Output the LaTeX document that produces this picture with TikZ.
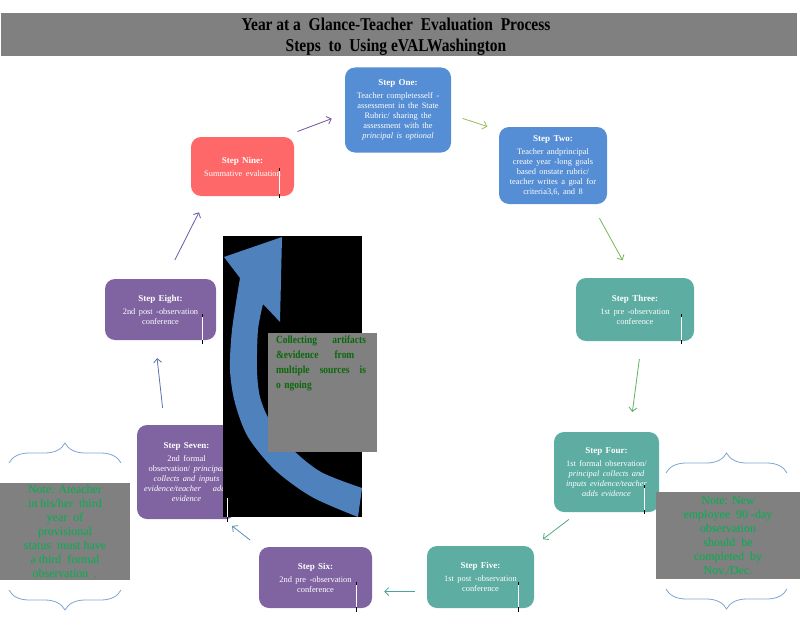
\documentclass[tikz,border=0pt]{standalone}
\usepackage{fontspec}
\setmainfont{Liberation Serif}
\newfontfamily\narrowfont{Liberation Serif}[FakeStretch=0.86]
\usetikzlibrary{positioning,arrows.meta,decorations.pathreplacing}
\definecolor{stepblue}{RGB}{85,142,213}
\definecolor{stepteal}{RGB}{93,173,163}
\definecolor{steppurple}{RGB}{128,100,162}
\definecolor{stepred}{RGB}{255,104,104}
\definecolor{notegray}{RGB}{128,128,128}
\definecolor{notegreen}{RGB}{0,176,80}
\definecolor{collectgreen}{RGB}{10,105,10}
\definecolor{bigblue}{RGB}{79,129,189}
\definecolor{braceblue}{RGB}{125,165,210}
\definecolor{c91}{RGB}{112,82,162}
\definecolor{c12}{RGB}{155,187,89}
\definecolor{c23}{RGB}{118,184,80}
\definecolor{c34}{RGB}{92,176,98}
\definecolor{c45}{RGB}{80,170,128}
\definecolor{c56}{RGB}{75,163,160}
\definecolor{c67}{RGB}{90,140,190}
\definecolor{c78}{RGB}{92,112,180}
\definecolor{c89}{RGB}{104,90,168}
\newcommand{\steptitle}[1]{{\fontsize{9}{11}\selectfont\bfseries #1}\\[3pt]}
\newcommand{\wordgap}{\spaceskip=3.4pt\relax}

\begin{document}
\begin{tikzpicture}[x=1pt, y=-1pt,
    stepbox/.style={rounded corners=10pt, text=white, align=center, inner sep=0pt, font=\fontsize{8.4}{10}\selectfont\wordgap},
    notebox/.style={fill=notegray, text=notegreen, align=center, inner sep=0pt, font=\fontsize{12}{14}\selectfont},
    link/.style={-{Straight Barb[length=4pt,width=8pt]}, line width=0.8pt},
    bracket/.style={draw=braceblue, line width=0.8pt, decorate, decoration={brace, amplitude=20pt}}]
    \useasboundingbox (0,0) rectangle (800,618);
    % title bar
    \fill[notegray] (1,13) rectangle (797,56);
    \node[align=center, inner sep=0pt, font=\narrowfont\bfseries\fontsize{18}{21}\selectfont] (title) at (396,36.5)
        {Year at a \ Glance-Teacher \ Evaluation \ Process\\Steps \ to \ Using eVALWashington};
    % the nine steps
    \node[stepbox, fill=stepblue, minimum width=106pt, minimum height=85pt] (1) at (398,110)
        {\steptitle{Step One:}Teacher completesself -\\assessment in the State\\Rubric/ sharing the\\assessment with the\\\textit{principal is optional}};
    \node[stepbox, fill=stepblue, minimum width=108pt, minimum height=77pt] (2) at (553,165.5)
        {\steptitle{Step Two:}Teacher andprincipal\\create year -long goals\\based onstate rubric/\\teacher writes a goal for\\criteria3,6, and 8};
    \node[stepbox, fill=stepteal, minimum width=118pt, minimum height=63pt] (3) at (635,309.5)
        {\steptitle{Step Three:}1st pre -observation\\conference};
    \node[stepbox, fill=stepteal, minimum width=105pt, minimum height=80pt] (4) at (606.5,472)
        {\steptitle{Step Four:}1st formal observation/\\\textit{principal collects and}\\\textit{inputs evidence/teacher}\\\textit{adds evidence}};
    \node[stepbox, fill=stepteal, minimum width=107pt, minimum height=62pt] (5) at (480.5,577)
        {\steptitle{Step Five:}1st post -observation\\conference};
    \node[stepbox, fill=steppurple, minimum width=113pt, minimum height=61pt] (6) at (315.5,577.5)
        {\steptitle{Step Six:}2nd pre -observation\\conference};
    \node[stepbox, fill=steppurple, minimum width=99pt, minimum height=94pt] (7) at (186.5,472)
        {\steptitle{Step Seven:}2nd formal\\observation/ \textit{principal}\\\textit{collects and inputs}\\\textit{evidence/teacher \quad adds}\\\textit{evidence}};
    \node[stepbox, fill=steppurple, minimum width=111pt, minimum height=61pt] (8) at (160.5,309.5)
        {\steptitle{Step Eight:}2nd post -observation\\conference};
    \node[stepbox, fill=stepred, minimum width=103pt, minimum height=59pt] (9) at (242.5,166.5)
        {\steptitle{Step Nine:}Summative evaluation};
    % ongoing part
    \fill[black] (223,236) rectangle (362,517);
    \fill[bigblue] plot[smooth] coordinates {(240,278) (232,330) (230,370) (235,403) (248,437) (275,470) (312,497) (358,517)}
        -- (362,488)
        -- plot[smooth] coordinates {(362,488) (321,472) (291,448) (270,421) (260,397) (257,370) (258,330) (263,304)}
        -- (280,322) -- (282,237) -- (224,257) -- cycle;
    \node[fill=notegray, minimum width=109pt, minimum height=119pt, inner sep=0pt] (collect) at (322.5,392.5) {};
    \node[text=collectgreen, text width=90pt, align=left, inner sep=0pt, anchor=north west,
        font=\narrowfont\bfseries\fontsize{11}{15}\selectfont] (collecttext) at ([xshift=8pt,yshift=-3pt]collect.north west)
        {Collecting\hfill artifacts\\\&evidence\hspace{16pt}from\\multiple\hfill sources\hfill is\\o ngoing};
    % notes
    \node[notebox, minimum width=130pt, minimum height=97pt] (note7) at (65,531)
        {Note: Ateacher\\in his/her \ third\\year \ of\\provisional\\status \ must have\\a third \ formal\\observation \ .};
    \node[notebox, minimum width=144pt, minimum height=87pt] (note4) at (728,535.5)
        {Note: New\\employee \ 90 -day\\observation\\should \ be\\completed \ by\\Nov./Dec.};
    \draw[bracket] (9,463) -- (121,463);
    \draw[bracket] (121,590) -- (9,590);
    \draw[bracket] (666,473) -- (787,473);
    \draw[bracket] (787,589) -- (666,589);
    % text cursors
    \draw[line width=1pt] (279,168) -- (279,198);
    \draw[white, line width=0.8pt] (279,171) -- (279,194);
    \draw[line width=1pt] (681,314) -- (681,344);
    \draw[white, line width=0.8pt] (681,317) -- (681,340);
    \draw[line width=1pt] (644,485) -- (644,514);
    \draw[white, line width=0.8pt] (644,488) -- (644,510);
    \draw[line width=1pt] (518,582) -- (518,612);
    \draw[white, line width=0.8pt] (518,585) -- (518,607);
    \draw[line width=1pt] (356,582) -- (356,612);
    \draw[white, line width=0.8pt] (356,585) -- (356,607);
    \draw[line width=1pt] (227,495) -- (227,522);
    \draw[white, line width=0.8pt] (227,498) -- (227,517);
    \draw[line width=1pt] (202,314) -- (202,344);
    \draw[white, line width=0.8pt] (202,317) -- (202,340);
    % cycle arrows
    \draw[link, c91, shorten <=15pt, shorten >=14pt] (9.36) -- (1.184);
    \draw[link, c12, shorten <=12pt, shorten >=12pt] (1.-5) -- (2.147);
    \draw[link, c23, shorten <=16pt, shorten >=20pt] (2.-45) -- (3.95);
    \draw[link, c34, shorten <=18pt, shorten >=20pt] (3.-78) -- (4.60);
    \draw[link, c45, shorten <=12pt, shorten >=11pt] (4.-125) -- (5.north east);
    \draw[link, c56, shorten <=12pt, shorten >=12pt] (5.-165) -- (6.-14);
    \draw[link, c67, shorten <=11pt, shorten >=11pt] (6.north west) -- (7.-52);
    \draw[link, c78, shorten <=17pt, shorten >=18pt] (7.115) -- (8.-100);
    \draw[link, c89, shorten <=21pt, shorten >=18pt] (8.81) -- (9.-140);
\end{tikzpicture}
\end{document}
